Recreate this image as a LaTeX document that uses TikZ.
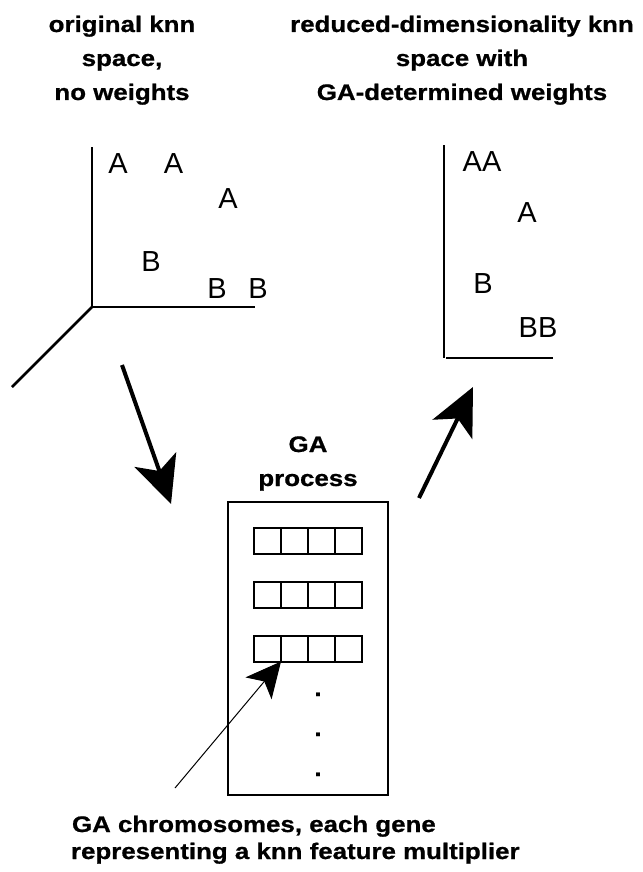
\documentclass[tikz,border=0pt]{standalone}
\usepackage{fontspec}
\setmainfont{Liberation Sans}
\newfontfamily\boldlab[FakeStretch=1.15,FakeBold=0.8]{Liberation Sans}
\usetikzlibrary{arrows.meta}
\begin{document}
\begin{tikzpicture}[x=1pt,y=-1pt,
  title/.style={font=\boldlab\bfseries\fontsize{22.5}{27}\selectfont, inner sep=0pt, outer sep=0pt, anchor=base},
  pt/.style={font=\fontsize{29}{34}\selectfont, inner sep=0pt, outer sep=0pt, anchor=base},
  axis/.style={line width=2.6pt},
  cell/.style={draw, line width=2pt, minimum width=27pt, minimum height=26pt, inner sep=0pt, outer sep=0pt},
  bigarrow/.style={line width=4pt, -{Stealth[length=47pt,width=44pt,inset=12pt]}},
  thinarrow/.style={line width=1pt, -{Stealth[length=35pt,width=34pt,inset=9pt]}}]
\useasboundingbox (0,0) rectangle (642,872);

% titles
\node[title] (tl1) at (122,32) {original knn};
\node[title] (tl2) at (122,66) {space,};
\node[title] (tl3) at (122,100) {no weights};
\node[title] (tr1) at (462,32) {reduced-dimensionality knn};
\node[title] (tr2) at (462,66) {space with};
\node[title] (tr3) at (462,100) {GA-determined weights};

% left axes
\coordinate (oL) at (92,307);
\coordinate (yL) at (92,147);
\coordinate (xL) at (255,307);
\coordinate (zL) at (12,387);
\draw[axis] (yL) -- (oL) -- (xL);
\draw[axis] (oL) -- (zL);

\node[pt] (pa1) at (118,173) {A};
\node[pt] (pa2) at (173.5,173) {A};
\node[pt] (pa3) at (228,208) {A};
\node[pt] (pb1) at (151,271) {B};
\node[pt] (pb2) at (217,298) {B};
\node[pt] (pb3) at (258,298) {B};

% right axes
\coordinate (yR) at (444,145);
\coordinate (yR0) at (444,358);
\coordinate (xR0) at (446,358);
\coordinate (xR) at (553,358);
\draw[axis] (yR) -- (yR0);
\draw[axis] (xR0) -- (xR);

\node[pt] (qa1) at (482,171) {AA};
\node[pt] (qa2) at (527,222) {A};
\node[pt] (qb1) at (483,293) {B};
\node[pt] (qb2) at (538,337) {BB};

% GA process
\node[title] (ga1) at (308,452) {GA};
\node[title] (ga2) at (308,486) {process};
\node[draw, line width=2pt, minimum width=160pt, minimum height=293pt, inner sep=0pt, outer sep=0pt] (ga) at (308,648.5) {};

\foreach \r/\yy in {1/541,2/595,3/648.5}{
  \foreach \i in {1,...,4}{
    \node[cell] (c\r\i) at ({254+13.5+27*(\i-1)},\yy) {};
  }
}

\node[title] (d1) at (318,696) {.};
\node[title] (d2) at (318,736) {.};
\node[title] (d3) at (318,776) {.};

% arrows
\coordinate (la1) at (122,365);
\coordinate (la2) at (171,504);
\draw[bigarrow] (la1) -- (la2);
\coordinate (ra1) at (419,498);
\coordinate (ra2) at (473,387);
\draw[bigarrow] (ra1) -- (ra2);
\coordinate (ta) at (175,788);
\draw[thinarrow] (ta) -- (c31.south east);

% bottom text
\node[title, anchor=base west] (b1) at (72,832) {GA chromosomes, each gene};
\node[title, anchor=base west] (b2) at (71,859) {representing a knn feature multiplier};
\end{tikzpicture}
\end{document}
